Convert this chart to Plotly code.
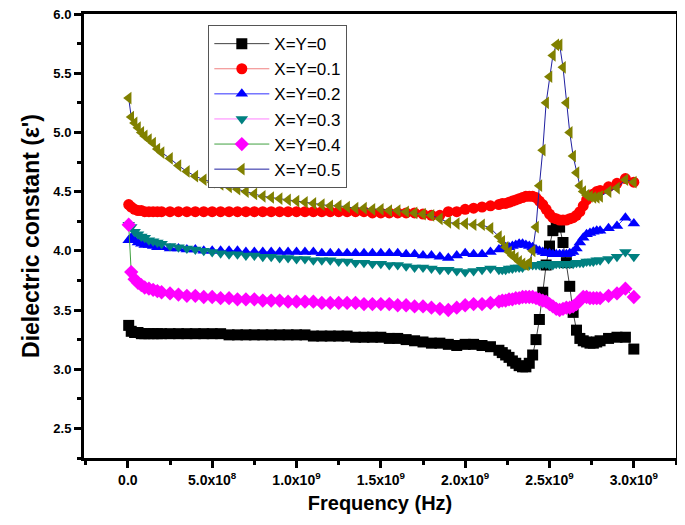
import plotly.graph_objects as go

# frequency points (GHz), denser around the resonance
freq_ghz = [0.005, 0.02, 0.04, 0.06, 0.08, 0.10, 0.125, 0.15, 0.175,
            0.20, 0.25, 0.30, 0.35, 0.40, 0.45, 0.50, 0.55, 0.60, 0.65, 0.70,
            0.75, 0.80, 0.85, 0.90, 0.95, 1.00, 1.05, 1.10, 1.15, 1.20, 1.25,
            1.30, 1.35, 1.40, 1.45, 1.50, 1.55, 1.60, 1.65, 1.70, 1.75, 1.80,
            1.85, 1.90, 1.95, 2.00, 2.05, 2.10, 2.15, 2.20,
            2.22, 2.24, 2.26, 2.28, 2.30, 2.32, 2.34, 2.36, 2.38, 2.40,
            2.42, 2.44, 2.46, 2.48, 2.50, 2.52, 2.54, 2.56, 2.58, 2.60,
            2.62, 2.64, 2.66, 2.68, 2.70, 2.72, 2.74, 2.76, 2.78, 2.80,
            2.85, 2.90, 2.95, 3.00]

eps_0 = [3.37, 3.32, 3.31, 3.31, 3.30, 3.30, 3.30, 3.30, 3.30,
         3.30, 3.30, 3.30, 3.30, 3.30, 3.30, 3.30, 3.30, 3.29, 3.29, 3.29,
         3.29, 3.29, 3.29, 3.29, 3.29, 3.29, 3.29, 3.28, 3.28, 3.28, 3.28,
         3.28, 3.27, 3.27, 3.27, 3.27, 3.26, 3.26, 3.25, 3.24, 3.23, 3.22,
         3.22, 3.21, 3.20, 3.21, 3.21, 3.20, 3.19, 3.16,
         3.14, 3.12, 3.10, 3.07, 3.05, 3.03, 3.02, 3.02, 3.05, 3.12,
         3.25, 3.42, 3.65, 3.88, 4.04, 4.17, 4.22, 4.20, 4.07, 3.90,
         3.70, 3.48, 3.33, 3.26, 3.24, 3.23, 3.22, 3.22, 3.23, 3.24,
         3.26, 3.27, 3.27, 3.17]

eps_01 = [4.39, 4.37, 4.35, 4.34, 4.34, 4.33, 4.33, 4.33, 4.33,
          4.33, 4.33, 4.33, 4.33, 4.33, 4.33, 4.33, 4.33, 4.33, 4.33, 4.33,
          4.33, 4.33, 4.33, 4.33, 4.33, 4.33, 4.33, 4.33, 4.33, 4.33, 4.33,
          4.33, 4.33, 4.33, 4.32, 4.32, 4.32, 4.32, 4.32, 4.32, 4.31, 4.30,
          4.30, 4.33, 4.33, 4.35, 4.36, 4.37, 4.38, 4.39,
          4.40, 4.40, 4.41, 4.42, 4.43, 4.44, 4.45, 4.46, 4.46, 4.46,
          4.45, 4.42, 4.39, 4.35, 4.31, 4.28, 4.27, 4.26, 4.26, 4.26,
          4.27, 4.28, 4.30, 4.33, 4.38, 4.43, 4.46, 4.48, 4.50, 4.51,
          4.54, 4.57, 4.61, 4.58]

eps_02 = [4.09, 4.11, 4.09, 4.07, 4.06, 4.05, 4.05, 4.04, 4.03,
          4.03, 4.02, 4.02, 4.01, 4.01, 4.00, 4.00, 4.00, 4.00, 4.00, 3.99,
          3.99, 3.99, 3.99, 3.99, 3.99, 3.99, 3.99, 3.99, 3.98, 3.98, 3.98,
          3.98, 3.98, 3.98, 3.98, 3.98, 3.98, 3.98, 3.97, 3.97, 3.96, 3.96,
          3.95, 3.94, 3.96, 3.98, 3.97, 3.97, 3.99, 4.01,
          4.02, 4.03, 4.03, 4.04, 4.05, 4.06, 4.06, 4.05, 4.04, 4.03,
          4.01, 4.00, 3.99, 3.98, 3.98, 3.97, 3.97, 3.97, 3.97, 3.97,
          3.98, 3.99, 4.02, 4.07, 4.11, 4.14, 4.15, 4.16, 4.17, 4.17,
          4.19, 4.21, 4.28, 4.23]

eps_03 = [4.22, 4.20, 4.16, 4.14, 4.12, 4.11, 4.09, 4.08, 4.07,
          4.06, 4.04, 4.03, 4.02, 4.01, 4.00, 3.99, 3.98, 3.97, 3.97, 3.96,
          3.96, 3.95, 3.95, 3.94, 3.94, 3.93, 3.93, 3.92, 3.92, 3.92, 3.91,
          3.91, 3.90, 3.90, 3.89, 3.89, 3.88, 3.88, 3.87, 3.86, 3.86, 3.85,
          3.84, 3.84, 3.83, 3.82, 3.83, 3.84, 3.85, 3.84,
          3.84, 3.84, 3.85, 3.85, 3.86, 3.86, 3.86, 3.88, 3.88, 3.88,
          3.88, 3.88, 3.89, 3.89, 3.88, 3.88, 3.89, 3.89, 3.89, 3.89,
          3.89, 3.89, 3.90, 3.90, 3.90, 3.91, 3.91, 3.91, 3.92, 3.92,
          3.93, 3.95, 3.99, 3.95]

eps_04 = [4.22, 3.82, 3.76, 3.73, 3.71, 3.69, 3.68, 3.67, 3.66,
          3.65, 3.64, 3.63, 3.62, 3.62, 3.61, 3.61, 3.60, 3.60, 3.59, 3.59,
          3.59, 3.58, 3.58, 3.58, 3.57, 3.57, 3.57, 3.57, 3.56, 3.56, 3.56,
          3.56, 3.56, 3.55, 3.55, 3.55, 3.55, 3.54, 3.54, 3.53, 3.53, 3.52,
          3.51, 3.50, 3.52, 3.54, 3.55, 3.55, 3.56, 3.57,
          3.58, 3.58, 3.59, 3.59, 3.60, 3.60, 3.61, 3.61, 3.61, 3.61,
          3.60, 3.59, 3.58, 3.57, 3.55, 3.53, 3.51, 3.50, 3.51, 3.52,
          3.52, 3.53, 3.55, 3.58, 3.61, 3.61, 3.60, 3.60, 3.60, 3.60,
          3.62, 3.64, 3.68, 3.61]

eps_05 = [5.29, 5.13, 5.08, 5.04, 5.00, 4.97, 4.94, 4.91, 4.86,
          4.83, 4.78, 4.72, 4.67, 4.63, 4.60, 4.58, 4.56, 4.54, 4.52, 4.50,
          4.48, 4.46, 4.45, 4.44, 4.43, 4.42, 4.41, 4.40, 4.39, 4.38, 4.38,
          4.37, 4.36, 4.36, 4.35, 4.35, 4.34, 4.34, 4.33, 4.32, 4.31, 4.30,
          4.27, 4.24, 4.23, 4.23, 4.22, 4.22, 4.19, 4.12,
          4.08, 4.03, 3.99, 3.96, 3.94, 3.91, 3.89, 3.88, 3.90, 4.00,
          4.20, 4.55, 4.85, 5.25, 5.47, 5.65, 5.74, 5.74, 5.55, 5.25,
          5.00, 4.80, 4.66, 4.55, 4.50, 4.47, 4.46, 4.45, 4.45, 4.46,
          4.50, 4.53, 4.60, 4.58]

labels = ["X=Y=0", "X=Y=0.1", "X=Y=0.2", "X=Y=0.3", "X=Y=0.4", "X=Y=0.5"]
series = [eps_0, eps_01, eps_02, eps_03, eps_04, eps_05]
line_colors = ["#404040", "#f08080", "#3030ff", "#ff80ff", "#40a040", "#2020a0"]
marker_colors = ["black", "red", "blue", "#008080", "magenta", "#808000"]
symbols = ["square", "circle", "triangle-up", "triangle-down", "diamond", "triangle-left"]

x_tickvals = [0, 5e8, 1e9, 1.5e9, 2e9, 2.5e9, 3e9]
x_ticktext = ["<b>0.0</b>", "<b>5.0x10<sup>8</sup></b>", "<b>1.0x10<sup>9</sup></b>",
              "<b>1.5x10<sup>9</sup></b>", "<b>2.0x10<sup>9</sup></b>",
              "<b>2.5x10<sup>9</sup></b>", "<b>3.0x10<sup>9</sup></b>"]
y_tickvals = [2.5, 3.0, 3.5, 4.0, 4.5, 5.0, 5.5, 6.0]
y_ticktext = ["<b>%.1f</b>" % v for v in y_tickvals]

freq = [f * 1e9 for f in freq_ghz]

fig = go.Figure()
for lab, ys, lc, mc, sym in zip(labels, series, line_colors, marker_colors, symbols):
    fig.add_trace(go.Scatter(
        x=freq, y=ys, name=lab, mode="lines+markers",
        line=dict(color=lc, width=1),
        marker=dict(symbol=sym, color=mc, size=11, line=dict(width=0)),
    ))

axis_common = dict(
    showline=True, linecolor="black", linewidth=3, mirror=True,
    ticks="outside", tickwidth=3, ticklen=7, tickcolor="black",
    showgrid=False, zeroline=False, automargin=False,
    ticklabeloverflow="allow",
)

# page body has an 8px margin, so the figure is a bit smaller than the window
fig.update_layout(
    width=677, height=517,
    paper_bgcolor="white", plot_bgcolor="white",
    margin=dict(l=76, r=9, t=6, b=67),
    font=dict(family="Arial, Liberation Sans", color="black"),
    xaxis=dict(
        range=[-2.6e8, 3.25e9], tickvals=x_tickvals, ticktext=x_ticktext,
        tickfont=dict(family="Arial, Liberation Sans", size=14, color="black"),
        minor=dict(ticks="outside", ticklen=4, tickwidth=3, tickcolor="black", dtick=2.5e8, tick0=0),
        title=dict(text="<b>Frequency (Hz)</b>", font=dict(size=20), standoff=10),
        **axis_common,
    ),
    yaxis=dict(
        range=[2.25, 6.0], tickvals=y_tickvals, ticktext=y_ticktext,
        tickfont=dict(family="Arial, Liberation Sans", size=13, color="black"),
        minor=dict(ticks="outside", ticklen=4, tickwidth=3, tickcolor="black",
                   tickvals=[2.25, 2.75, 3.25, 3.75, 4.25, 4.75, 5.25, 5.75]),
        title=dict(text="<b>Dielectric constant (ε')</b>", font=dict(size=23), standoff=8),
        **axis_common,
    ),
    legend=dict(
        x=0.21, y=0.975, xanchor="left", yanchor="top",
        bgcolor="white", bordercolor="#555555", borderwidth=1,
        font=dict(size=17, family="Arial, Liberation Sans"),
        tracegroupgap=0, itemwidth=55,
    ),
)

fig.write_html("out.html")
